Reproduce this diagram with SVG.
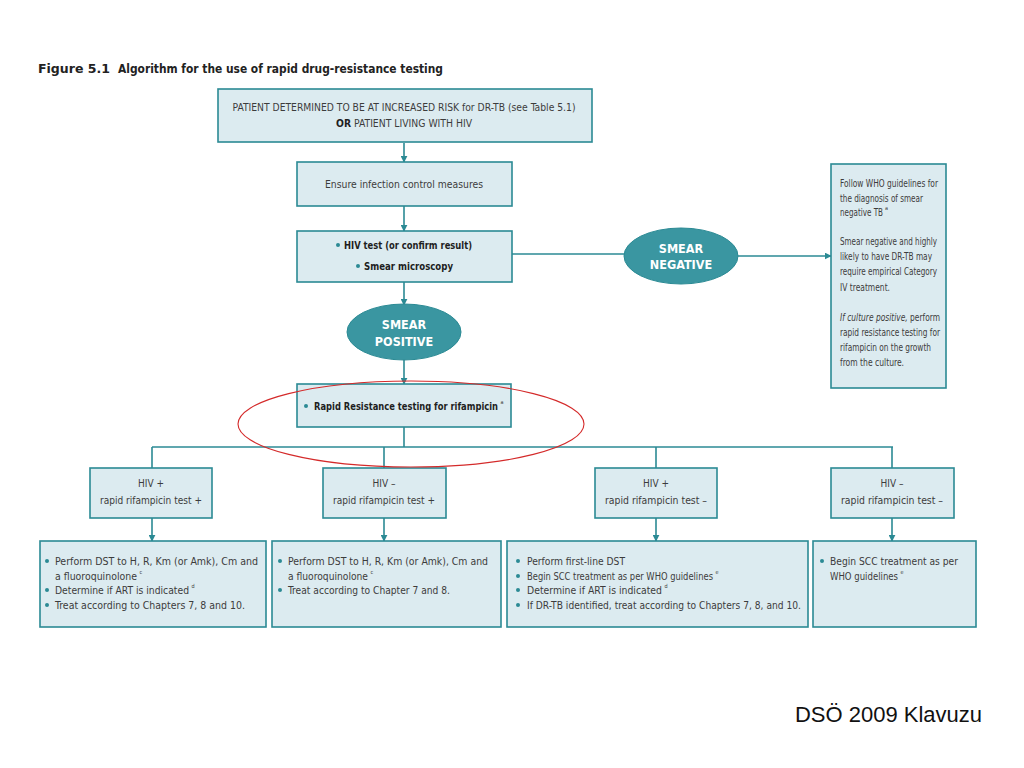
<svg xmlns="http://www.w3.org/2000/svg" width="1024" height="768" viewBox="0 0 1024 768">
<defs>
<marker id="ah" viewBox="0 0 10 10" refX="9" refY="5" markerWidth="7" markerHeight="7" markerUnits="userSpaceOnUse" orient="auto">
<path d="M0,0 L10,5 L0,10 z" fill="#2b8a94"/>
</marker>
<style>
.box{fill:#dcebf0;stroke:#2b8a94;stroke-width:1.6}
.ell{fill:#3a96a1;stroke:#2b8a94;stroke-width:1}
.con{stroke:#2b8a94;stroke-width:1.6;fill:none}
.t{font-family:"Liberation Sans Narrow","DejaVu Sans Condensed","Liberation Sans",sans-serif;font-size:10px;fill:#3c3c3c}
.l{font-size:10.5px}
.b{font-weight:bold;fill:#1e1e1e}
.w{font-family:"Liberation Sans Narrow","DejaVu Sans Condensed","Liberation Sans",sans-serif;font-size:12.5px;font-weight:bold;fill:#ffffff}
.c{text-anchor:middle}
.sup{font-family:"Liberation Sans Narrow","DejaVu Sans Condensed","Liberation Sans",sans-serif;font-size:5.5px;fill:#3c3c3c}
.dot{fill:#2b8a94}
</style>
</defs>
<rect width="1024" height="768" fill="#ffffff"/>
<text x="38" y="73" class="t b" style="font-size:12.5px;fill:#222" textLength="72" lengthAdjust="spacingAndGlyphs">Figure 5.1</text>
<text x="118" y="73" class="t b" style="font-size:12.5px;fill:#222" textLength="325" lengthAdjust="spacingAndGlyphs">Algorithm for the use of rapid drug-resistance testing</text>

<g id="connectors">
<line class="con" x1="404" y1="143" x2="404" y2="162" marker-end="url(#ah)"/>
<line class="con" x1="404" y1="206" x2="404" y2="231" marker-end="url(#ah)"/>
<line class="con" x1="404" y1="282" x2="404" y2="305" marker-end="url(#ah)"/>
<line class="con" x1="404" y1="360" x2="404" y2="384" marker-end="url(#ah)"/>
<line class="con" x1="512" y1="254" x2="625" y2="254"/>
<line class="con" x1="738" y1="256" x2="831" y2="256" marker-end="url(#ah)"/>
<line class="con" x1="404" y1="427" x2="404" y2="447"/>
<line class="con" x1="152" y1="447" x2="893" y2="447"/>
<line class="con" x1="152" y1="447" x2="152" y2="468"/>
<line class="con" x1="384" y1="447" x2="384" y2="468"/>
<line class="con" x1="656" y1="447" x2="656" y2="468"/>
<line class="con" x1="892" y1="447" x2="892" y2="468"/>
<line class="con" x1="152" y1="518" x2="152" y2="541" marker-end="url(#ah)"/>
<line class="con" x1="384" y1="518" x2="384" y2="541" marker-end="url(#ah)"/>
<line class="con" x1="656" y1="518" x2="656" y2="541" marker-end="url(#ah)"/>
<line class="con" x1="892" y1="518" x2="892" y2="541" marker-end="url(#ah)"/>
</g>

<g id="n-start">
<rect class="box" x="218" y="89" width="374" height="53"/>
<text x="404" y="111" class="t c" textLength="343" lengthAdjust="spacingAndGlyphs">PATIENT DETERMINED TO BE AT INCREASED RISK for DR-TB (see Table 5.1)</text>
<text x="404" y="127" class="t c" textLength="136" lengthAdjust="spacingAndGlyphs"><tspan class="b">OR</tspan> PATIENT LIVING WITH HIV</text>
</g>

<g id="n-infection">
<rect class="box" x="297" y="162" width="215" height="44"/>
<text x="404" y="188" class="t c" textLength="158" lengthAdjust="spacingAndGlyphs">Ensure infection control measures</text>
</g>

<g id="n-hivtest">
<rect class="box" x="297" y="231" width="215" height="51"/>
<circle class="dot" cx="338" cy="245" r="2"/>
<text x="344" y="249" class="t b" textLength="128" lengthAdjust="spacingAndGlyphs">HIV test (or confirm result)</text>
<circle class="dot" cx="358" cy="266" r="2"/>
<text x="364" y="270" class="t b" textLength="89" lengthAdjust="spacingAndGlyphs">Smear microscopy</text>
</g>

<g id="n-smearpos">
<ellipse class="ell" cx="404" cy="332" rx="57" ry="28"/>
<text x="404" y="329" class="w c">SMEAR</text>
<text x="404" y="346" class="w c">POSITIVE</text>
</g>

<g id="n-smearneg">
<ellipse class="ell" cx="681" cy="256" rx="57" ry="28"/>
<text x="681" y="253" class="w c">SMEAR</text>
<text x="681" y="269" class="w c">NEGATIVE</text>
</g>

<g id="n-negbox">
<rect class="box" x="831" y="164" width="115" height="224"/>
<text x="840" y="187" class="t l" textLength="98" lengthAdjust="spacingAndGlyphs">Follow WHO guidelines for</text>
<text x="840" y="202" class="t l" textLength="83" lengthAdjust="spacingAndGlyphs">the diagnosis of smear</text>
<text x="840" y="216" class="t l" textLength="43" lengthAdjust="spacingAndGlyphs">negative TB</text>
<text x="885" y="210" class="sup">a</text>
<text x="840" y="245" class="t l" textLength="97" lengthAdjust="spacingAndGlyphs">Smear negative and highly</text>
<text x="840" y="260" class="t l" textLength="92" lengthAdjust="spacingAndGlyphs">likely to have DR-TB may</text>
<text x="840" y="275" class="t l" textLength="97" lengthAdjust="spacingAndGlyphs">require empirical Category</text>
<text x="840" y="291" class="t l" textLength="50" lengthAdjust="spacingAndGlyphs">IV treatment.</text>
<text x="840" y="321" class="t l" textLength="100" lengthAdjust="spacingAndGlyphs"><tspan font-style="italic">If culture positive,</tspan> perform</text>
<text x="840" y="336" class="t l" textLength="100" lengthAdjust="spacingAndGlyphs">rapid resistance testing for</text>
<text x="840" y="351" class="t l" textLength="91" lengthAdjust="spacingAndGlyphs">rifampicin on the growth</text>
<text x="840" y="366" class="t l" textLength="64" lengthAdjust="spacingAndGlyphs">from the culture.</text>
</g>

<g id="n-rapid">
<rect class="box" x="297" y="384" width="214" height="43"/>
<circle class="dot" cx="306" cy="406" r="2"/>
<text x="314" y="410" class="t b" textLength="184" lengthAdjust="spacingAndGlyphs">Rapid Resistance testing for rifampicin</text>
<text x="500.5" y="404" class="sup">a</text>
</g>

<g id="n-c1">
<rect class="box" x="90" y="468" width="122" height="50"/>
<text x="151" y="487" class="t c">HIV +</text>
<text x="151" y="504" class="t c" textLength="102" lengthAdjust="spacingAndGlyphs">rapid rifampicin test +</text>
</g>
<g id="n-c2">
<rect class="box" x="323" y="468" width="123" height="50"/>
<text x="384" y="487" class="t c">HIV –</text>
<text x="384" y="504" class="t c" textLength="102" lengthAdjust="spacingAndGlyphs">rapid rifampicin test +</text>
</g>
<g id="n-c3">
<rect class="box" x="595" y="468" width="122" height="50"/>
<text x="656" y="487" class="t c">HIV +</text>
<text x="656" y="504" class="t c" textLength="102" lengthAdjust="spacingAndGlyphs">rapid rifampicin test –</text>
</g>
<g id="n-c4">
<rect class="box" x="831" y="468" width="123" height="50"/>
<text x="892" y="487" class="t c">HIV –</text>
<text x="892" y="504" class="t c" textLength="102" lengthAdjust="spacingAndGlyphs">rapid rifampicin test –</text>
</g>

<g id="n-d1">
<rect class="box" x="40" y="541" width="226" height="86"/>
<circle class="dot" cx="47" cy="561" r="2"/>
<text x="55" y="565" class="t l" textLength="203" lengthAdjust="spacingAndGlyphs">Perform DST to H, R, Km (or Amk), Cm and</text>
<text x="55" y="580" class="t l" textLength="82" lengthAdjust="spacingAndGlyphs">a fluoroquinolone</text>
<text x="139.5" y="574" class="sup">c</text>
<circle class="dot" cx="47" cy="590" r="2"/>
<text x="55" y="594" class="t l" textLength="134" lengthAdjust="spacingAndGlyphs">Determine if ART is indicated</text>
<text x="191.5" y="588" class="sup">d</text>
<circle class="dot" cx="47" cy="605" r="2"/>
<text x="55" y="609" class="t l" textLength="190" lengthAdjust="spacingAndGlyphs">Treat according to Chapters 7, 8 and 10.</text>
</g>

<g id="n-d2">
<rect class="box" x="272" y="541" width="229" height="86"/>
<circle class="dot" cx="280" cy="561" r="2"/>
<text x="288" y="565" class="t l" textLength="200" lengthAdjust="spacingAndGlyphs">Perform DST to H, R, Km (or Amk), Cm and</text>
<text x="288" y="580" class="t l" textLength="80" lengthAdjust="spacingAndGlyphs">a fluoroquinolone</text>
<text x="370.5" y="574" class="sup">c</text>
<circle class="dot" cx="280" cy="590" r="2"/>
<text x="288" y="594" class="t l" textLength="162" lengthAdjust="spacingAndGlyphs">Treat according to Chapter 7 and 8.</text>
</g>

<g id="n-d3">
<rect class="box" x="507" y="541" width="301" height="86"/>
<circle class="dot" cx="518" cy="561" r="2"/>
<text x="527" y="565" class="t l" textLength="98" lengthAdjust="spacingAndGlyphs">Perform first-line DST</text>
<circle class="dot" cx="518" cy="576" r="2"/>
<text x="527" y="580" class="t l" textLength="186" lengthAdjust="spacingAndGlyphs">Begin SCC treatment as per WHO guidelines</text>
<text x="715.5" y="574" class="sup">e</text>
<circle class="dot" cx="518" cy="590" r="2"/>
<text x="527" y="594" class="t l" textLength="135" lengthAdjust="spacingAndGlyphs">Determine if ART is indicated</text>
<text x="664.5" y="588" class="sup">d</text>
<circle class="dot" cx="518" cy="605" r="2"/>
<text x="527" y="609" class="t l" textLength="274" lengthAdjust="spacingAndGlyphs">If DR-TB identified, treat according to Chapters 7, 8, and 10.</text>
</g>

<g id="n-d4">
<rect class="box" x="813" y="541" width="163" height="86"/>
<circle class="dot" cx="822" cy="561" r="2"/>
<text x="830" y="565" class="t l" textLength="128" lengthAdjust="spacingAndGlyphs">Begin SCC treatment as per</text>
<text x="830" y="580" class="t l" textLength="68" lengthAdjust="spacingAndGlyphs">WHO guidelines</text>
<text x="900.5" y="574" class="sup">e</text>
</g>

<ellipse cx="411" cy="424" rx="173" ry="43" fill="none" stroke="#d42a2a" stroke-width="1.1"/>

<text x="982" y="722" text-anchor="end" style="font-family:'Liberation Sans',Arial,sans-serif;font-size:22px;fill:#111">DSÖ 2009 Klavuzu</text>
</svg>
